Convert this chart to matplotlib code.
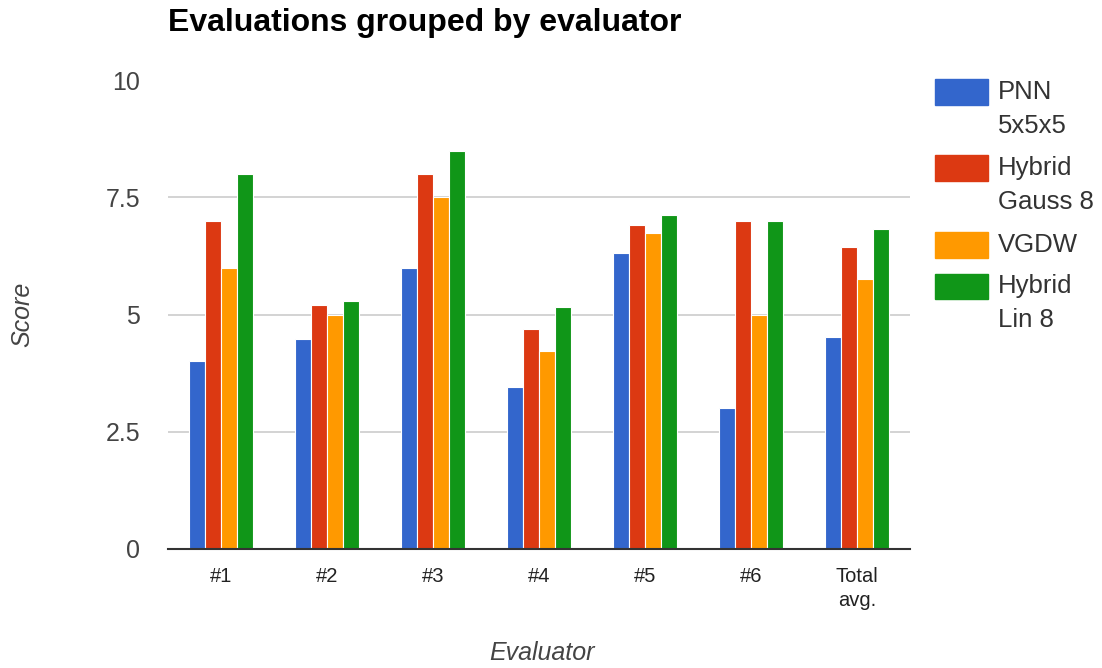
import matplotlib
matplotlib.use("Agg")
import matplotlib.pyplot as plt
import numpy as np
from matplotlib.patches import Rectangle

categories = ["#1", "#2", "#3", "#4", "#5", "#6", "Total\navg."]
series_names = ["PNN\n5x5x5", "Hybrid\nGauss 8", "VGDW", "Hybrid\nLin 8"]
pnn = [4.0, 4.47, 6.0, 3.45, 6.32, 3.0, 4.51]
hybrid_gauss = [7.0, 5.21, 8.0, 4.69, 6.92, 7.0, 6.45]
vgdw = [6.0, 5.0, 7.5, 4.22, 6.75, 5.0, 5.76]
hybrid_lin = [8.0, 5.29, 8.5, 5.16, 7.13, 7.0, 6.83]
y_ticks = [0, 2.5, 5, 7.5, 10]
y_tick_labels = ["0", "2.5", "5", "7.5", "10"]

series = [pnn, hybrid_gauss, vgdw, hybrid_lin]
colors = ["#3366cc", "#dc3912", "#ff9900", "#109618"]

plt.rcParams['font.family'] = ['Liberation Sans', 'DejaVu Sans']

W, H = 1102, 668
fig = plt.figure(figsize=(W / 100, H / 100), dpi=100)
ax = fig.add_axes([168 / W, 1 - 548.5 / H, (910 - 168) / W, (548.5 - 80.5) / H])

x = np.arange(len(categories))
bw = 0.149
for i, (vals, c) in enumerate(zip(series, colors)):
    ax.bar(x + (i - 1.5) * bw, vals, width=bw, color=c, edgecolor="white",
           linewidth=0.8, zorder=3)

ax.set_xlim(-0.5, len(categories) - 0.5)
ax.set_ylim(0, 10)
ax.set_yticks(y_ticks)
ax.set_yticklabels(y_tick_labels, fontsize=18, color="#444444")
ax.set_xticks(x)
ax.set_xticklabels(categories, fontsize=14.5, color="#222222", linespacing=1.35,
                   va="top")
ax.tick_params(axis="both", length=0)
ax.tick_params(axis="y", pad=20)
ax.tick_params(axis="x", pad=13)
ax.grid(axis="y", color="#cccccc", linewidth=1.2, zorder=0)
for s in ["top", "right", "left"]:
    ax.spines[s].set_visible(False)
ax.spines["bottom"].set_color("#333333")
ax.spines["bottom"].set_linewidth(1.5)
ax.spines["bottom"].set_zorder(4)

fig.text(168 / W, 1 - 23 / H, "Evaluations grouped by evaluator", fontsize=23,
         fontweight="bold", color="#000000", ha="left", va="center")
fig.text(22 / W, 1 - 314 / H, "Score", fontsize=18, style="italic",
         color="#444444", rotation=90, ha="center", va="center")
fig.text(542 / W, 1 - 653 / H, "Evaluator", fontsize=18, style="italic",
         color="#444444", ha="center", va="center")

# legend
box_centers = [92, 168, 245, 286]
for name, c, yc in zip(series_names, colors, box_centers):
    fig.patches.append(Rectangle((935 / W, 1 - (yc + 12.5) / H), 53 / W, 25 / H,
                                 transform=fig.transFigure, color=c))
    lines = name.split("\n")
    for j, ln in enumerate(lines):
        fig.text(998 / W, 1 - (yc + 34 * j) / H, ln, fontsize=18.5,
                 color="#333333", ha="left", va="center")

fig.savefig("out.png", dpi=100)
